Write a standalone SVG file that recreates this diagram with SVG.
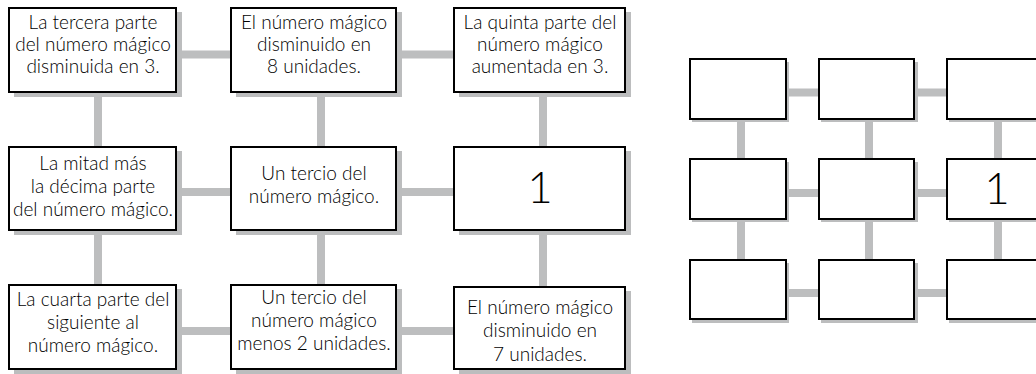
<svg xmlns="http://www.w3.org/2000/svg" width="1036" height="374" viewBox="0 0 1036 374">
<style>
.c{stroke:#bdbebf;stroke-width:8;fill:none}
.s{fill:#bcbdbe}
.b{fill:#fff;stroke:#000;stroke-width:2}
.t{font-family:Lato,"Liberation Sans",sans-serif;font-weight:300;font-size:19px;fill:#000;text-anchor:middle}
.n{font-family:Lato,"Liberation Sans",sans-serif;font-weight:300;font-size:44px;fill:#000;text-anchor:middle}
</style>
<rect width="1036" height="374" fill="#fff"/>
<g id="connectors">
<path class="c" d="M177 54.5H231M397 54.5H454M177 192H231M397 192H454M177 331H231M397 331H454"/>
<path class="c" d="M98 92V146M98 230V284M321 92V146M321 230V284M543 92V146M543 230V286"/>
<path class="c" d="M786 92.5H818M914 92.5H946M786 193H818M914 193H946M786 293H818M914 293H946"/>
<path class="c" d="M741 119V158M741 219V259M869 119V158M869 219V259M998 119V158M998 219V259"/>
</g>
<g id="n1"><rect class="s" x="14" y="12" width="168" height="85"/><rect class="b" x="9" y="8" width="167" height="84"/>
<text class="t"><tspan x="93" y="29">La tercera parte</tspan><tspan x="93" y="51">del número mágico</tspan><tspan x="93" y="73">disminuida en 3.</tspan></text></g>
<g id="n2"><rect class="s" x="236" y="12" width="166" height="85"/><rect class="b" x="231" y="8" width="165" height="84"/>
<text class="t"><tspan x="314" y="29">El número mágico</tspan><tspan x="314" y="51">disminuido en</tspan><tspan x="314" y="73">8 unidades.</tspan></text></g>
<g id="n3"><rect class="s" x="459" y="12" width="172" height="85"/><rect class="b" x="454" y="8" width="171" height="84"/>
<text class="t"><tspan x="540" y="29">La quinta parte del</tspan><tspan x="540" y="51">número mágico</tspan><tspan x="540" y="73">aumentada en 3.</tspan></text></g>
<g id="n4"><rect class="s" x="14" y="151" width="168" height="84"/><rect class="b" x="9" y="147" width="167" height="83"/>
<text class="t"><tspan x="93" y="170">La mitad más</tspan><tspan x="93" y="193">la décima parte</tspan><tspan x="93" y="216">del número mágico.</tspan></text></g>
<g id="n5"><rect class="s" x="236" y="151" width="166" height="84"/><rect class="b" x="231" y="147" width="165" height="83"/>
<text class="t"><tspan x="314" y="180">Un tercio del</tspan><tspan x="314" y="203">número mágico.</tspan></text></g>
<g id="n6"><rect class="s" x="459" y="151" width="172" height="84"/><rect class="b" x="454" y="147" width="171" height="83"/>
<text class="n" x="540" y="203">1</text></g>
<g id="n7"><rect class="s" x="14" y="289" width="168" height="85"/><rect class="b" x="9" y="285" width="167" height="84"/>
<text class="t"><tspan x="93" y="306">La cuarta parte del</tspan><tspan x="93" y="329">siguiente al</tspan><tspan x="93" y="352">número mágico.</tspan></text></g>
<g id="n8"><rect class="s" x="236" y="289" width="166" height="85"/><rect class="b" x="231" y="285" width="165" height="84"/>
<text class="t"><tspan x="314" y="304">Un tercio del</tspan><tspan x="314" y="327">número mágico</tspan><tspan x="314" y="350">menos 2 unidades.</tspan></text></g>
<g id="n9"><rect class="s" x="459" y="291" width="172" height="83"/><rect class="b" x="454" y="287" width="171" height="82"/>
<text class="t"><tspan x="540" y="314">El número mágico</tspan><tspan x="540" y="337">disminuido en</tspan><tspan x="540" y="361">7 unidades.</tspan></text></g>
<g id="r1"><rect class="s" x="692" y="62" width="97" height="60"/><rect class="b" x="690" y="59" width="96" height="60"/></g>
<g id="r2"><rect class="s" x="821" y="62" width="97" height="60"/><rect class="b" x="819" y="59" width="95" height="60"/></g>
<g id="r3"><rect class="s" x="949" y="62" width="97" height="60"/><rect class="b" x="947" y="59" width="96" height="60"/></g>
<g id="r4"><rect class="s" x="692" y="162" width="97" height="60"/><rect class="b" x="690" y="159" width="96" height="60"/></g>
<g id="r5"><rect class="s" x="821" y="162" width="97" height="60"/><rect class="b" x="819" y="159" width="95" height="60"/></g>
<g id="r6"><rect class="s" x="949" y="162" width="97" height="60"/><rect class="b" x="947" y="159" width="96" height="60"/>
<text class="n" x="997" y="204">1</text></g>
<g id="r7"><rect class="s" x="692" y="263" width="97" height="60"/><rect class="b" x="690" y="260" width="96" height="59"/></g>
<g id="r8"><rect class="s" x="821" y="263" width="97" height="60"/><rect class="b" x="819" y="260" width="95" height="59"/></g>
<g id="r9"><rect class="s" x="949" y="263" width="97" height="60"/><rect class="b" x="947" y="260" width="96" height="59"/></g>
</svg>
